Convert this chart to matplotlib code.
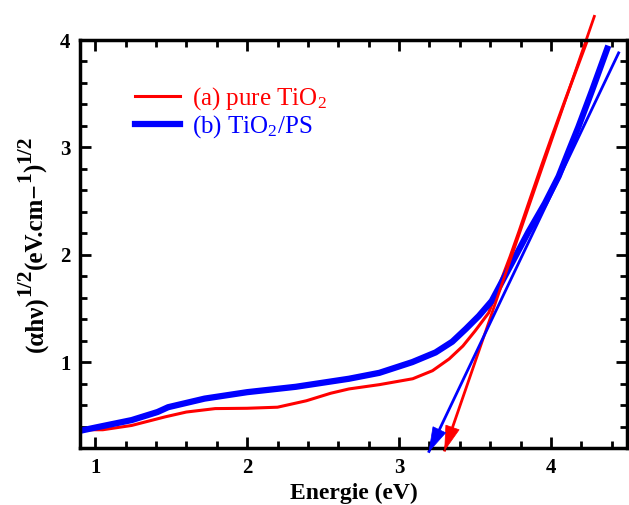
import numpy as np
import matplotlib
matplotlib.use('Agg')
import matplotlib.pyplot as plt
from matplotlib.ticker import MultipleLocator
from matplotlib.patches import Polygon
from matplotlib.transforms import IdentityTransform

plt.rcParams['font.family'] = 'Liberation Serif'
plt.rcParams['mathtext.fontset'] = 'custom'
plt.rcParams['mathtext.rm'] = 'Liberation Serif'
plt.rcParams['mathtext.it'] = 'Liberation Serif:italic'
plt.rcParams['mathtext.bf'] = 'Liberation Serif:bold'

# (a) pure TiO2
red_x = [0.9, 1.05, 1.24, 1.46, 1.6, 1.79, 2.0, 2.2, 2.39, 2.55, 2.67, 2.87, 3.09, 3.22,
         3.33, 3.42, 3.5, 3.59, 3.66, 3.73, 3.79, 3.85, 3.94, 4.0, 4.09, 4.14, 4.24]
red_y = [0.37, 0.37, 0.41, 0.49, 0.535, 0.567, 0.57, 0.58, 0.64, 0.71, 0.75, 0.79, 0.845, 0.92,
         1.03, 1.15, 1.29, 1.46, 1.72, 1.98, 2.22, 2.47, 2.84, 3.08, 3.43, 3.62, 4.0]

# (b) TiO2/PS
blue_x = [0.9, 1.0, 1.24, 1.41, 1.48, 1.72, 2.0, 2.32, 2.67, 2.87, 3.087, 3.24, 3.35, 3.44,
          3.525, 3.61, 3.745, 3.85, 3.96, 4.05, 4.12, 4.18, 4.27, 4.37]
blue_y = [0.36, 0.39, 0.46, 0.535, 0.58, 0.66, 0.72, 0.77, 0.845, 0.90, 1.0, 1.09, 1.19, 1.31,
          1.43, 1.57, 1.93, 2.21, 2.48, 2.73, 2.98, 3.19, 3.53, 3.92]

# tangent lines (top end -> arrow tip on the energy axis)
red_tan_x, red_tan_y = [4.285, 3.30], [4.22, 0.18]
blue_tan_x, blue_tan_y = [4.445, 3.197], [3.88, 0.168]

W, H = 629, 505
fig = plt.figure(figsize=(W / 100, H / 100), dpi=100)
ax = fig.add_axes([80 / W, 57 / H, 547 / W, 408 / H])

ax.plot(red_x, red_y, color='#ff0000', lw=2.2, label='(a) pure TiO$_2$')
ax.plot(blue_x, blue_y, color='#0000ff', lw=4.5, label='(b) TiO$_2$/PS')

ax.set_xlim(0.9, 4.5)
ax.set_ylim(0.2, 4.0)

# tangents: shaft as a line, arrow head as a triangle in pixel space
for tx, ty, c in [(red_tan_x, red_tan_y, '#ff0000'), (blue_tan_x, blue_tan_y, '#0000ff')]:
    ax.plot(tx, ty, color=c, lw=2, clip_on=False)
    tip = ax.transData.transform((tx[1], ty[1]))
    top = ax.transData.transform((tx[0], ty[0]))
    d = (top - tip) / np.hypot(*(top - tip))
    n = np.array([-d[1], d[0]])
    base = tip + d * 24
    tri = Polygon([tip, base + n * 7, base - n * 7], closed=True, transform=IdentityTransform(),
                  facecolor=c, edgecolor=c, lw=0.5, clip_on=False)
    fig.add_artist(tri)

ax.xaxis.set_major_locator(MultipleLocator(1))
ax.xaxis.set_minor_locator(MultipleLocator(0.2))
ax.yaxis.set_major_locator(MultipleLocator(1))
ax.yaxis.set_minor_locator(MultipleLocator(0.2))
ax.tick_params(which='both', direction='in', top=True, right=True, width=2,
               labelsize=15)
ax.tick_params(which='major', length=8)
ax.tick_params(axis='x', pad=7)
ax.tick_params(axis='y', pad=7)
ax.tick_params(which='minor', length=5)
for lab in ax.get_xticklabels() + ax.get_yticklabels():
    lab.set_fontweight('bold')
for sp in ax.spines.values():
    sp.set_linewidth(2.5)

ax.set_xlabel('Energie (eV)', fontsize=17, fontweight='bold', labelpad=4)

# y label built from pieces so the exponents stay large like the original
renderer = fig.canvas.get_renderer()
pieces = [('(αhν)', 0, 18), ('1/2', 1, 15.5), ('(eV.cm−', 0, 18), ('1', 1, 15.5),
          (')', 0, 18), ('1/2', 1, 15.5)]
ypos = 153.0
for s, sup, fs in pieces:
    xb = 42 - 12 * sup
    t = fig.text(xb / W, ypos / H, s, rotation=90, rotation_mode='anchor',
                 ha='left', va='baseline', fontsize=fs, fontweight='bold')
    ypos += t.get_window_extent(renderer).height

leg = ax.legend(loc='upper left', bbox_to_anchor=(0.06, 0.945), frameon=False,
                fontsize=18, handlelength=1.8, handletextpad=0.45, labelspacing=0.05)
for txt, c in zip(leg.get_texts(), ['#ff0000', '#0000ff']):
    txt.set_color(c)

fig.savefig('out.png', dpi=100)
